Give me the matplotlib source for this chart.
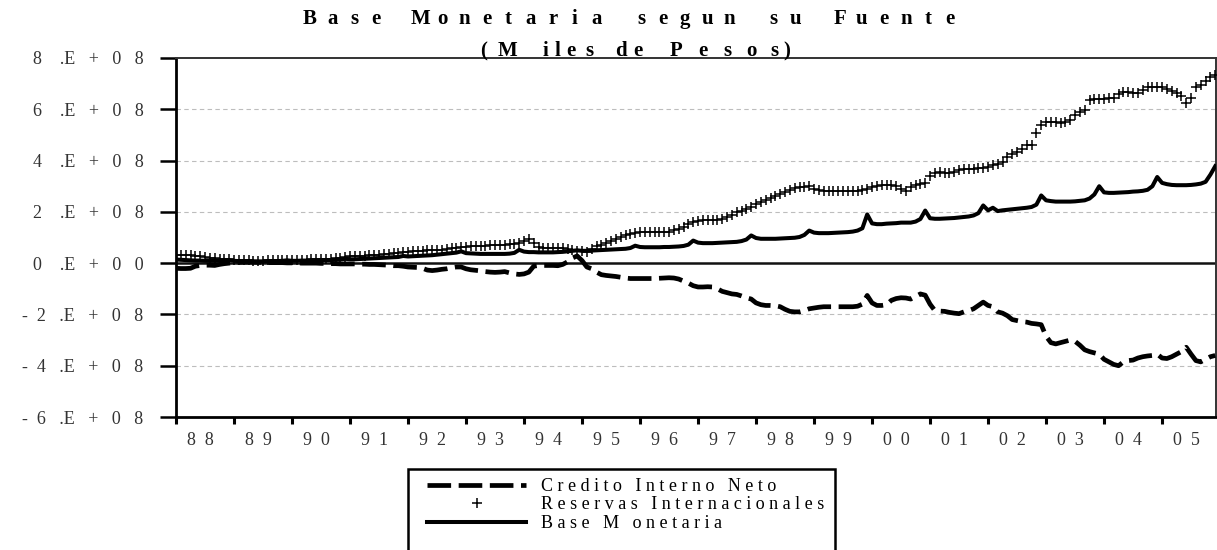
import matplotlib
import matplotlib.pyplot as plt
import numpy as np
from matplotlib.patches import Rectangle

matplotlib.use("Agg")

plt.rcParams["font.family"] = ["Liberation Serif", "DejaVu Serif"]

# monthly values, Jan 1988 .. Dec 2005, in units of 1e8 (miles de pesos)
years = list(range(1988, 2006))

base_monetaria = [
    0.14, 0.13, 0.12, 0.11, 0.10, 0.10, 0.09, 0.09, 0.09, 0.10, 0.10, 0.12,
    0.09, 0.08, 0.07, 0.07, 0.07, 0.07, 0.07, 0.08, 0.08, 0.08, 0.09, 0.11,
    0.09, 0.09, 0.10, 0.10, 0.10, 0.10, 0.11, 0.12, 0.12, 0.13, 0.14, 0.17,
    0.15, 0.15, 0.16, 0.17, 0.18, 0.19, 0.20, 0.21, 0.22, 0.23, 0.24, 0.28,
    0.26, 0.27, 0.28, 0.29, 0.30, 0.31, 0.33, 0.35, 0.37, 0.39, 0.41, 0.46,
    0.39, 0.38, 0.37, 0.36, 0.36, 0.36, 0.36, 0.36, 0.36, 0.37, 0.40, 0.52,
    0.45, 0.43, 0.43, 0.42, 0.42, 0.42, 0.42, 0.43, 0.44, 0.46, 0.48, 0.50,
    0.48, 0.48, 0.49, 0.50, 0.51, 0.52, 0.53, 0.54, 0.55, 0.56, 0.59, 0.68,
    0.63, 0.62, 0.62, 0.62, 0.62, 0.63, 0.63, 0.64, 0.65, 0.67, 0.72, 0.88,
    0.80, 0.78, 0.78, 0.78, 0.79, 0.80, 0.81, 0.82, 0.83, 0.86, 0.92, 1.08,
    0.98, 0.95, 0.95, 0.95, 0.95, 0.96, 0.97, 0.98, 0.99, 1.02, 1.10, 1.27,
    1.19, 1.17, 1.17, 1.17, 1.18, 1.19, 1.20, 1.21, 1.23, 1.27, 1.36, 1.90,
    1.55, 1.52, 1.52, 1.54, 1.55, 1.56, 1.58, 1.58, 1.58, 1.62, 1.72, 2.05,
    1.75, 1.73, 1.73, 1.74, 1.75, 1.76, 1.78, 1.80, 1.82, 1.86, 1.95, 2.25,
    2.06, 2.16, 2.03, 2.06, 2.08, 2.10, 2.12, 2.14, 2.16, 2.19, 2.28, 2.64,
    2.45, 2.42, 2.40, 2.40, 2.40, 2.40, 2.41, 2.43, 2.45, 2.52, 2.68, 3.00,
    2.76, 2.74, 2.74, 2.75, 2.76, 2.77, 2.79, 2.80, 2.82, 2.86, 3.00, 3.36,
    3.13, 3.08, 3.05, 3.04, 3.04, 3.04, 3.05, 3.07, 3.10, 3.17, 3.45, 3.78,
]

reservas = [
    0.33, 0.32, 0.31, 0.30, 0.28, 0.26, 0.24, 0.22, 0.20, 0.18, 0.17, 0.16,
    0.14, 0.13, 0.12, 0.11, 0.10, 0.10, 0.10, 0.11, 0.11, 0.12, 0.12, 0.13,
    0.13, 0.13, 0.14, 0.14, 0.15, 0.15, 0.16, 0.17, 0.18, 0.20, 0.22, 0.24,
    0.26, 0.27, 0.28, 0.29, 0.30, 0.32, 0.33, 0.35, 0.37, 0.39, 0.40, 0.42,
    0.45, 0.46, 0.48, 0.49, 0.50, 0.50, 0.51, 0.53, 0.55, 0.58, 0.60, 0.62,
    0.64, 0.66, 0.67, 0.68, 0.68, 0.69, 0.70, 0.70, 0.72, 0.74, 0.75, 0.78,
    0.88, 0.94, 0.80, 0.62, 0.60, 0.59, 0.59, 0.58, 0.58, 0.56, 0.52, 0.49,
    0.46, 0.43, 0.55, 0.66, 0.72, 0.80, 0.88, 0.95, 1.02, 1.10, 1.15, 1.19,
    1.20, 1.20, 1.21, 1.21, 1.22, 1.22, 1.23, 1.28, 1.35, 1.42, 1.52, 1.62,
    1.66, 1.67, 1.68, 1.69, 1.70, 1.72, 1.78, 1.88, 1.98, 2.05, 2.10, 2.18,
    2.30, 2.40, 2.47, 2.55, 2.62, 2.70, 2.78, 2.86, 2.92, 2.95, 2.98, 3.00,
    2.90, 2.84, 2.80, 2.80, 2.80, 2.80, 2.81, 2.82, 2.82, 2.83, 2.85, 2.88,
    2.95, 3.00, 3.03, 3.04, 3.03, 3.00, 2.88, 2.82, 2.95, 3.05, 3.08, 3.12,
    3.40, 3.52, 3.55, 3.50, 3.52, 3.56, 3.62, 3.66, 3.68, 3.69, 3.70, 3.72,
    3.76, 3.82, 3.86, 3.95, 4.15, 4.25, 4.34, 4.45, 4.60, 4.62, 5.06, 5.40,
    5.50, 5.52, 5.50, 5.48, 5.50, 5.60, 5.78, 5.88, 5.97, 6.35, 6.42, 6.42,
    6.42, 6.44, 6.45, 6.60, 6.68, 6.66, 6.62, 6.65, 6.75, 6.85, 6.88, 6.88,
    6.88, 6.80, 6.70, 6.62, 6.50, 6.25, 6.45, 6.85, 6.95, 7.10, 7.25, 7.35,
]

credito = [
    -0.20, -0.21, -0.21, -0.20, -0.12, -0.09, -0.08, -0.08, -0.09, -0.05, -0.02, 0.00,
    0.02, 0.03, 0.04, 0.04, 0.04, 0.03, 0.03, 0.02, 0.02, 0.02, 0.02, 0.01,
    0.01, 0.01, 0.00, 0.00, 0.00, 0.00, -0.01, -0.01, -0.02, -0.02, -0.03, -0.03,
    -0.03, -0.03, -0.04, -0.04, -0.05, -0.05, -0.06, -0.07, -0.08, -0.10, -0.10, -0.12,
    -0.15, -0.16, -0.17, -0.20, -0.27, -0.29, -0.27, -0.24, -0.22, -0.18, -0.15, -0.15,
    -0.22, -0.26, -0.28, -0.30, -0.33, -0.35, -0.36, -0.35, -0.33, -0.38, -0.42, -0.44,
    -0.42, -0.35, -0.12, -0.09, -0.09, -0.09, -0.09, -0.10, -0.05, 0.05, 0.20, 0.28,
    0.10, -0.15, -0.22, -0.35, -0.45, -0.48, -0.50, -0.52, -0.55, -0.58, -0.60, -0.60,
    -0.60, -0.60, -0.60, -0.60, -0.59, -0.58, -0.57, -0.58, -0.62, -0.70, -0.78, -0.88,
    -0.93, -0.93, -0.92, -0.93, -1.00, -1.10, -1.15, -1.20, -1.22, -1.28, -1.35, -1.40,
    -1.55, -1.62, -1.65, -1.65, -1.66, -1.70, -1.80, -1.88, -1.90, -1.90, -1.85, -1.78,
    -1.75, -1.72, -1.70, -1.70, -1.70, -1.70, -1.70, -1.70, -1.70, -1.68, -1.60, -1.26,
    -1.55, -1.65, -1.65, -1.62, -1.45, -1.38, -1.35, -1.36, -1.40, -1.30, -1.20, -1.25,
    -1.60, -1.85, -1.87, -1.88, -1.92, -1.95, -1.97, -1.90, -1.85, -1.78, -1.65, -1.52,
    -1.65, -1.70, -1.90, -1.95, -2.05, -2.20, -2.24, -2.28, -2.30, -2.35, -2.37, -2.40,
    -2.85, -3.10, -3.15, -3.10, -3.05, -3.00, -3.05, -3.20, -3.38, -3.45, -3.50, -3.55,
    -3.75, -3.85, -3.95, -4.00, -3.85, -3.80, -3.78, -3.70, -3.65, -3.62, -3.60, -3.55,
    -3.70, -3.72, -3.65, -3.55, -3.45, -3.28, -3.55, -3.80, -3.85, -3.75, -3.65, -3.60,
]

y_ticks = [-6, -4, -2, 0, 2, 4, 6, 8]
y_labels = ["-  6   .E   +   0   8", "-  4   .E   +   0   8", "-  2   .E   +   0   8",
            "0    .E   +   0   0", "2    .E   +   0   8", "4    .E   +   0   8",
            "6    .E   +   0   8", "8    .E   +   0   8"]
year_labels = ["  ".join(f"{y % 100:02d}") for y in years]

series_labels = ["C r e d i t o   I n t e r n o   N e t o",
                 "R e s e r v a s   I n t e r n a c i o n a l e s",
                 "B a s e   M   o n e t a r i a"]

title_words = ["Base", "Monetaria", "segun", "su", "Fuente"]
subtitle = "(Miles de Pesos)"

W, H = 1217, 550
SCALE = 1e8
t = years[0] + np.arange(len(base_monetaria)) / 12.0

fig = plt.figure(figsize=(W / 100, H / 100), dpi=100)
ax = fig.add_axes([176 / W, 1 - 417 / H, (1216 - 176) / W, (417 - 58) / H])

for v in y_ticks[1:-1]:
    if v != 0:
        ax.axhline(v * SCALE, color="#bdbdbd", lw=0.8, ls=(0, (4, 3)), zorder=1)
ax.axhline(0, color="#111111", lw=1.8, zorder=2)

cin, = ax.plot(t, np.array(credito) * SCALE, color="black", lw=3.4,
               ls=(0, (5, 1.6)), zorder=3)
ri, = ax.plot(t, np.array(reservas) * SCALE, ls="none", marker="+", ms=7,
              mew=1.1, color="black", zorder=3)
bm, = ax.plot(t, np.array(base_monetaria) * SCALE, color="black", lw=2.9, zorder=4)

ax.set_xlim(years[0], years[0] + 17.93)
ax.set_ylim(-6 * SCALE, 8 * SCALE)

ax.set_yticks([v * SCALE for v in y_ticks])
ax.set_yticklabels(y_labels, fontsize=13, color="#333333")
ax.set_xticks(years)
ax.set_xticklabels([])
ax.set_xticks([y + 0.42 for y in years], minor=True)
ax.set_xticklabels(year_labels, minor=True, fontsize=13, color="#333333")
ax.tick_params(axis="y", direction="out", length=11.5, width=1.8, pad=12)
ax.tick_params(axis="x", which="major", direction="out", length=5, width=2.2)
ax.tick_params(axis="x", which="minor", length=0, pad=11)

for side in ["left", "bottom"]:
    ax.spines[side].set_linewidth(2)
for side in ["top", "right"]:
    ax.spines[side].set_linewidth(1.4)
    ax.spines[side].set_color("#333333")

# title letters spread out evenly, wider gaps between words
first_c, last_c, word_gap = 310, 950, 2.0
units = sum(len(w) - 1 for w in title_words) + word_gap * (len(title_words) - 1)
pitch = (last_c - first_c) / units
pos = first_c
for word in title_words:
    for i, ch in enumerate(word):
        fig.text(pos / W, 1 - 19 / H, ch, ha="center", va="center",
                 fontsize=15, fontweight="bold")
        if i < len(word) - 1:
            pos += pitch
    pos += word_gap * pitch

sub_x = [484, 508, None, 545, 557, 571, 589, None, 621, 638, None,
         676, 703, 727, 751, 774, 787]
for ch, xc in zip(subtitle.replace("M", "M "), sub_x):
    if ch == " " or xc is None:
        continue
    fig.text(xc / W, 1 - 56 / H, ch, ha="center", va="baseline",
             fontsize=15, fontweight="bold")

fig.patches.append(Rectangle((408 / W, 1 - 600 / H), (835 - 408) / W, (600 - 469) / H,
                             transform=fig.transFigure, fill=False,
                             edgecolor="black", lw=1.8))
leg = fig.legend([cin, ri, bm], series_labels, loc="upper left",
                 bbox_to_anchor=(427 / W, 1 - 478 / H), fontsize=13,
                 handlelength=5.5, handletextpad=0.8, labelspacing=0.08,
                 borderpad=0.0, borderaxespad=0.0, frameon=False)

fig.savefig("out.png", dpi=100)
